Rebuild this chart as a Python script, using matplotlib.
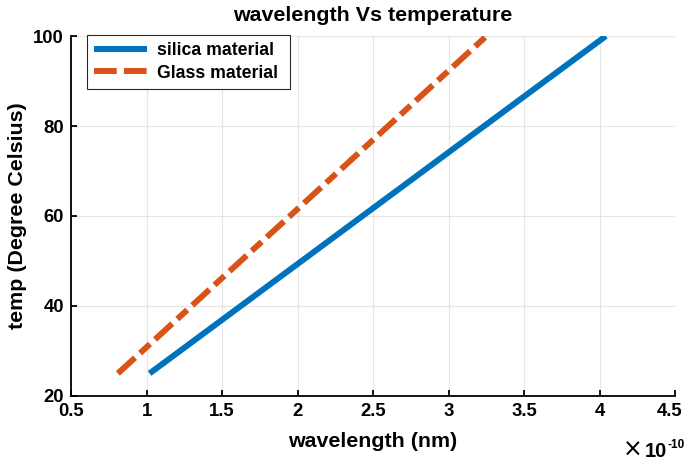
import numpy as np
import matplotlib.pyplot as plt
from matplotlib.lines import Line2D
from matplotlib.transforms import ScaledTranslation

# данные (длина волны в единицах 1e-10)
temp = [25, 100]
wl_silica = [1.02, 4.04]
wl_glass = [0.81, 3.25]

xticks = [0.5, 1, 1.5, 2, 2.5, 3, 3.5, 4, 4.5]
yticks = [20, 40, 60, 80, 100]

plt.rcParams['font.family'] = ['Liberation Sans', 'DejaVu Sans']
plt.rcParams['font.weight'] = 'bold'

blue = '#0072BD'
orange = '#D95319'
lw = 4.3

fig = plt.figure(figsize=(6.86, 4.62), dpi=100)
ax = fig.add_axes([0.1035, 0.143, 0.881, 0.779])

ax.plot(wl_silica, temp, color=blue, linewidth=lw, solid_capstyle='butt')
ax.plot(wl_glass, temp, color=orange, linewidth=lw,
        dashes=(3.9, 1.15, 2.25, 1.15), dash_capstyle='butt')

ax.set_xlim(0.5, 4.5)
ax.set_ylim(20, 100)
ax.set_xticks(xticks)
ax.set_xticklabels([f'{t:g}' for t in xticks])
ax.set_yticks(yticks)
ax.grid(True, color='#e5e5e5', linewidth=0.8)
ax.set_axisbelow(True)

for s in ['top', 'right']:
    ax.spines[s].set_visible(False)
for s in ['left', 'bottom']:
    ax.spines[s].set_linewidth(1.3)
ax.tick_params(direction='in', length=4.5, width=1.3, labelsize=13.3, pad=5)

# последняя подпись чуть левее, чтобы не обрезалась
last = ax.get_xticklabels()[-1]
last.set_transform(last.get_transform() + ScaledTranslation(-0.06, 0, fig.dpi_scale_trans))

ax.set_xlabel('wavelength (nm)', fontsize=15.4, fontweight='bold', labelpad=9)
ax.set_ylabel('temp (Degree Celsius)', fontsize=15.4, fontweight='bold')
ax.yaxis.set_label_coords(-0.073, 0.5)
ax.set_title('wavelength Vs temperature', fontsize=15.4, fontweight='bold', pad=11)

# множитель оси x
fig.text(642 / 686, 1 - 457 / 462, '×', ha='right', va='baseline', fontsize=17,
         fontweight='normal', family='DejaVu Sans')
fig.text(667 / 686, 1 - 457 / 462, '10', ha='right', va='baseline', fontsize=14.5)
fig.text(667 / 686, 1 - 448 / 462, '-10', ha='left', va='baseline', fontsize=8.5)

# легенда (в MATLAB штрихпунктир в легенде выглядит как пунктир)
handles = [Line2D([], [], color=blue, linewidth=lw, solid_capstyle='butt'),
           Line2D([], [], color=orange, linewidth=lw, dashes=(3.8, 1.2),
                  dash_capstyle='butt')]
leg = ax.legend(handles, ['silica material', 'Glass material '],
                loc='upper left', bbox_to_anchor=(16 / 604, 1.003),
                fontsize=12.7, fancybox=False, framealpha=1,
                edgecolor='#262626', borderaxespad=0, handlelength=3.0,
                handletextpad=0.55, borderpad=0.42, labelspacing=0.3)
leg.get_frame().set_linewidth(0.8)
for t in leg.get_texts():
    t.set_fontweight('bold')

fig.savefig('out.png', dpi=100)
